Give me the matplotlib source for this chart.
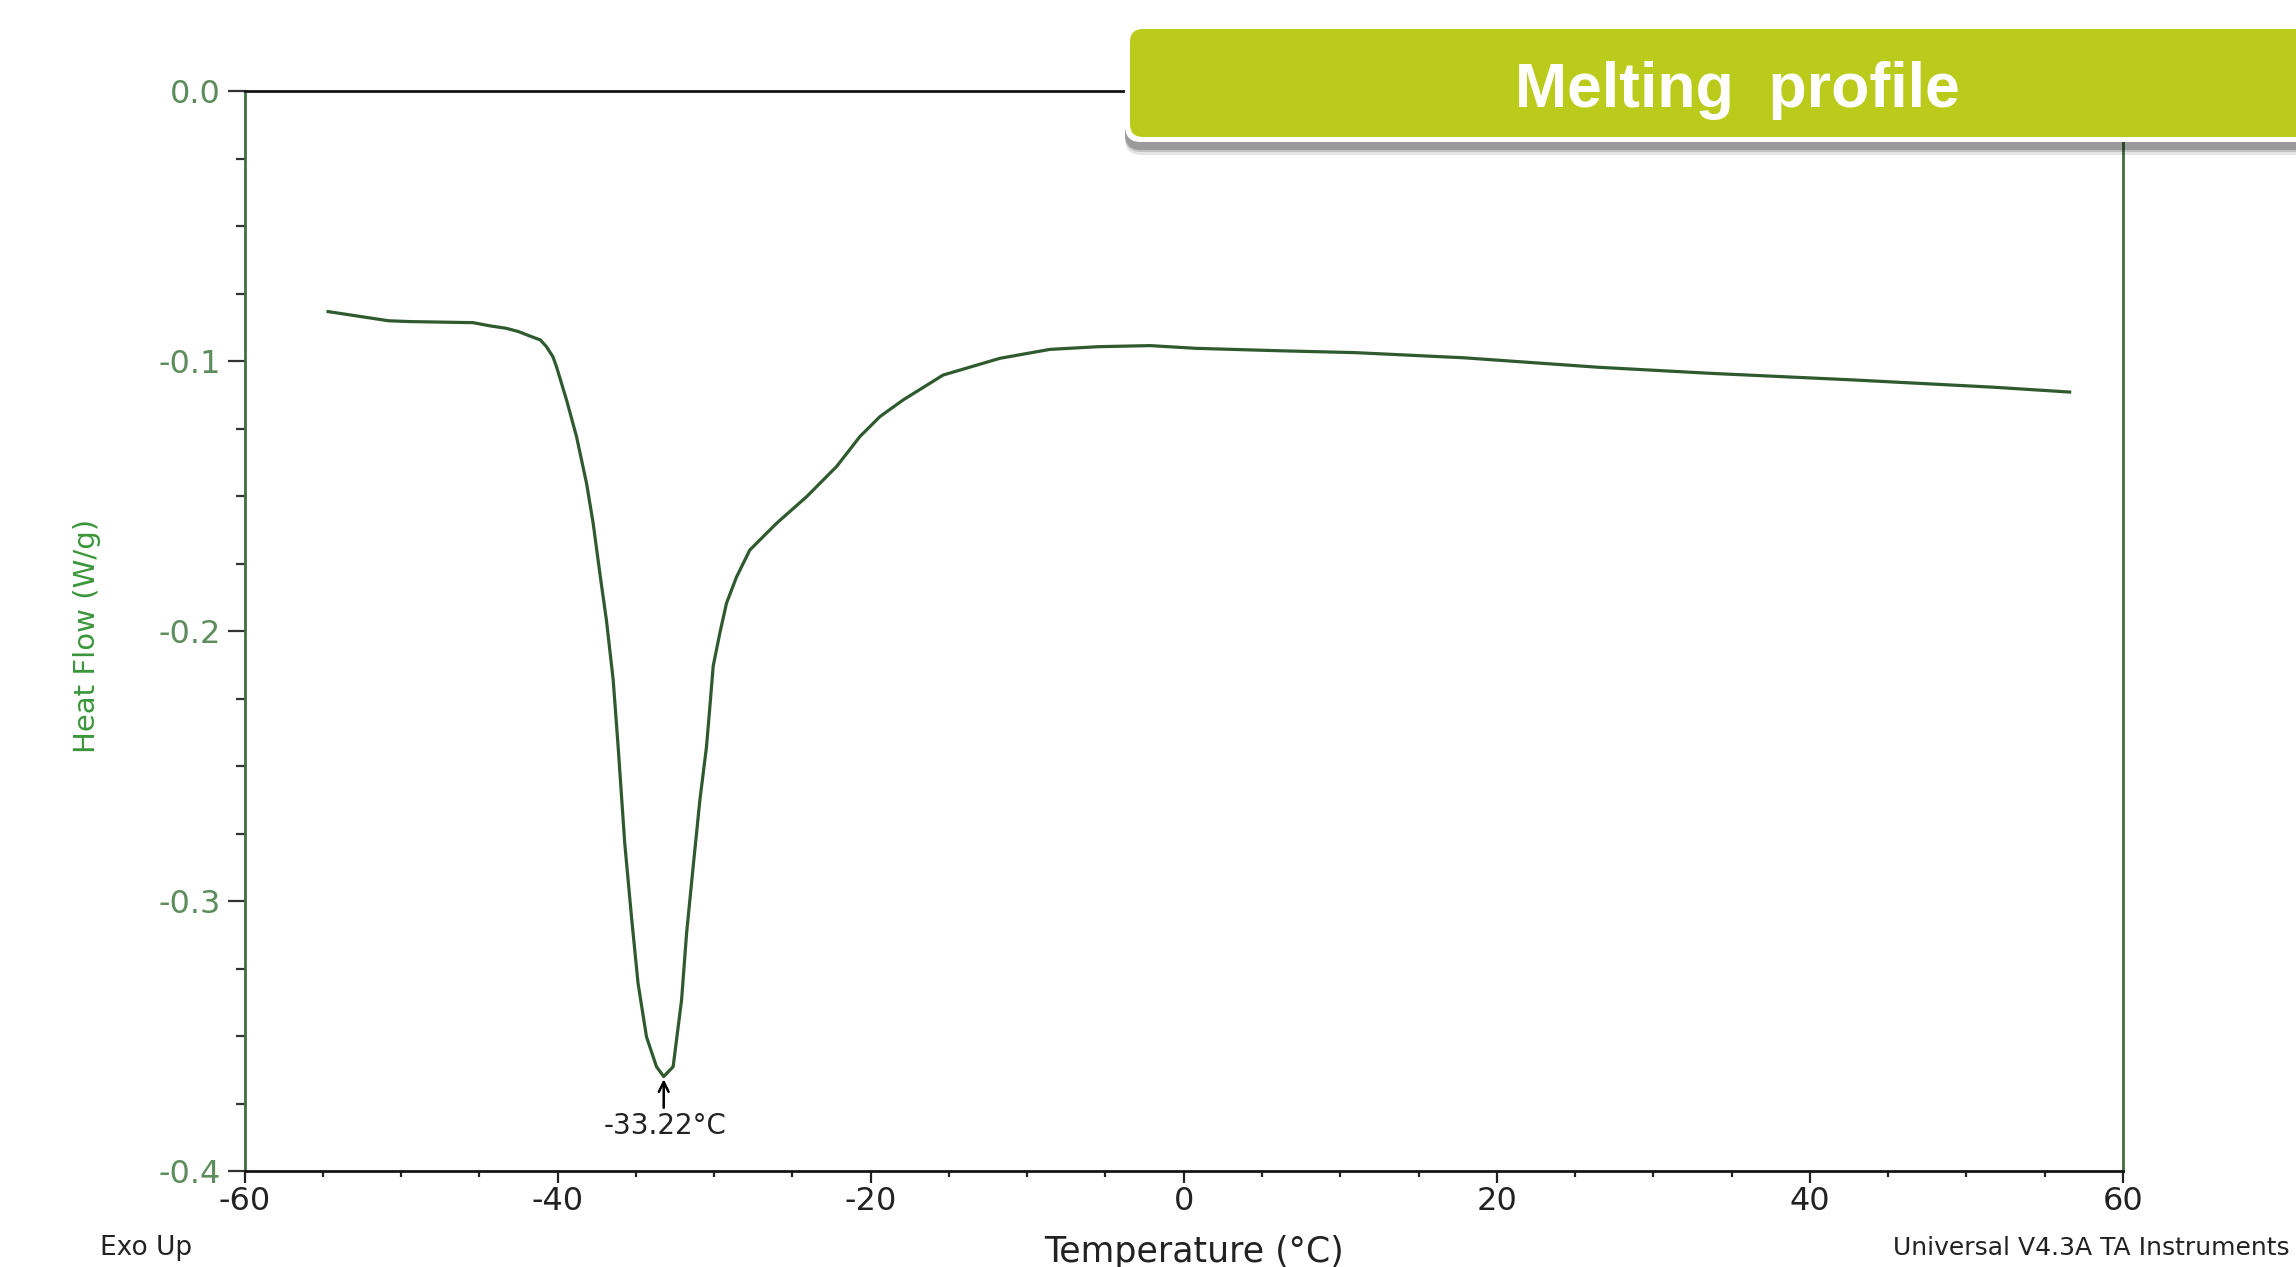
import matplotlib
matplotlib.use("Agg")
import matplotlib.pyplot as plt
from matplotlib.patches import FancyBboxPatch
from matplotlib.transforms import IdentityTransform
from matplotlib.ticker import MultipleLocator

plt.rcParams["axes.unicode_minus"] = False

# ── data ───────────────────────────────────────────────────────────────────────
temp = [-54.66, -50.8, -49.44, -45.40, -44.3, -43.27, -42.5, -41.57, -41.1, -40.71,
        -40.3, -40.07, -39.43, -38.79, -38.15, -37.73, -37.30, -36.88, -36.45,
        -36.13, -35.71, -35.28, -34.86, -34.32, -33.68, -33.22, -32.62, -32.08,
        -31.76, -31.34, -30.91, -30.49, -30.27, -30.06, -29.64, -29.21, -28.57,
        -27.72, -26.01, -24.10, -22.18, -20.69, -19.41, -17.92, -15.37, -11.74,
        -8.55, -5.46, -2.16, 0.76, 6.06, 10.94, 17.87, 26.43, 33.76, 42.73,
        51.70, 56.59]
heat_flow = [-0.0817, -0.0851, -0.0854, -0.0858, -0.0870, -0.0879, -0.0891, -0.0912,
             -0.0922, -0.0947, -0.0984, -0.1021, -0.1144, -0.1280, -0.1453, -0.1600,
             -0.1786, -0.1960, -0.2180, -0.2430, -0.2786, -0.3058, -0.3305, -0.3503,
             -0.3614, -0.3650, -0.3614, -0.3367, -0.3120, -0.2873, -0.2626, -0.2430,
             -0.2280, -0.2130, -0.2009, -0.1897, -0.1800, -0.1700, -0.1601, -0.1503,
             -0.1391, -0.1280, -0.1206, -0.1144, -0.1052, -0.0990, -0.0957, -0.0947,
             -0.0943, -0.0953, -0.0962, -0.0969, -0.0988, -0.1023, -0.1046, -0.1070,
             -0.1097, -0.1115]

peak_temp = -33.22
peak_flow = -0.365
peak_label = "-33.22°C"

x_ticks = [-60, -40, -20, 0, 20, 40, 60]
y_ticks = [0.0, -0.1, -0.2, -0.3, -0.4]
y_ticklabels = ["0.0", "-0.1", "-0.2", "-0.3", "-0.4"]

TRACE = "#2f5a2f"
SPINE_GREEN = "#3f6e3f"
YTICK_GREEN = "#5d8c5d"
YLABEL_GREEN = "#3a963a"
LIME = "#bbcb1c"

W, H = 2296, 1267
fig = plt.figure(figsize=(W / 100, H / 100), dpi=100)
ax = fig.add_axes([244.5 / W, 1 - 1171 / H, (2123 - 244.5) / W, (1171 - 91) / H])

ax.plot(temp, heat_flow, color=TRACE, lw=2.3)

ax.set_xlim(-60, 60)
ax.set_ylim(-0.4, 0.0)
ax.set_xticks(x_ticks)
ax.set_xticklabels([str(t) for t in x_ticks])
ax.set_yticks(y_ticks)
ax.set_yticklabels(y_ticklabels)
ax.xaxis.set_minor_locator(MultipleLocator(5))
ax.yaxis.set_minor_locator(MultipleLocator(0.025))

ax.tick_params(axis="x", which="major", direction="out", length=8.5, width=1.6,
               color="#222222", labelsize=23, labelcolor="#222222", pad=2)
ax.tick_params(axis="x", which="minor", direction="out", length=4.5, width=1.6, color="#222222")
ax.tick_params(axis="y", which="major", direction="out", length=12, width=1.6,
               color="#333333", labelsize=23, labelcolor=YTICK_GREEN, pad=5)
ax.tick_params(axis="y", which="minor", direction="out", length=6.5, width=1.6, color="#333333")

for side in ["top", "bottom"]:
    ax.spines[side].set_color("#151515")
    ax.spines[side].set_linewidth(2.0)
for side in ["left", "right"]:
    ax.spines[side].set_color(SPINE_GREEN)
    ax.spines[side].set_linewidth(2.0)

# peak marker
ax.annotate("", xy=(peak_temp, peak_flow), xytext=(peak_temp, -0.3776),
            arrowprops=dict(arrowstyle="->,head_length=0.7,head_width=0.35",
                            color="black", lw=1.8))
ax.text(peak_temp + 0.1, -0.3782, peak_label, ha="center", va="top",
        fontsize=20, color="#222222")

# axis labels and instrument notes
fig.text(87 / W, 1 - 636 / H, "Heat Flow (W/g)", rotation=90, ha="center", va="center",
         fontsize=21, color=YLABEL_GREEN)
fig.text(1194 / W, 1 - 1262 / H, "Temperature (°C)", ha="center", va="baseline",
         fontsize=25, color="#222222")
fig.text(100 / W, 1 - 1255 / H, "Exo Up", ha="left", va="baseline",
         fontsize=19, color="#222222")
fig.text(2290 / W, 1 - 1255 / H, "Universal V4.3A TA Instruments", ha="right",
         va="baseline", fontsize=18, color="#222222")

# title banner
ident = IdentityTransform()
for off, alpha in [(9, 0.10), (6, 0.15), (4, 0.20)]:
    fig.patches.append(FancyBboxPatch(
        (1125, H - 146 - off), 1300, 120, boxstyle="round,pad=0,rounding_size=16",
        transform=ident, fc="black", ec="none", alpha=alpha, figure=fig))
fig.patches.append(FancyBboxPatch(
    (1125, H - 142), 1300, 117, boxstyle="round,pad=0,rounding_size=16",
    transform=ident, fc="white", ec="none", figure=fig))
fig.patches.append(FancyBboxPatch(
    (1130, H - 137), 1300, 108, boxstyle="round,pad=0,rounding_size=13",
    transform=ident, fc=LIME, ec="none", figure=fig))
fig.text(1737, H - 107, "Melting  profile", transform=ident, ha="center", va="baseline",
         fontsize=45, fontweight="bold", color="white", family="Liberation Sans")

plt.savefig("out.png", dpi=100)
